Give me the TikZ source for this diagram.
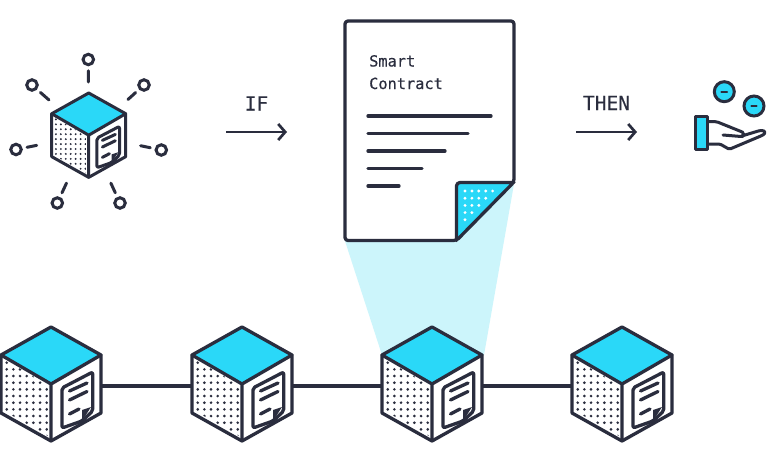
\documentclass[tikz,border=0pt]{standalone}
\usepackage{fontspec}
\newfontfamily\labelfont[FakeBold=0.35]{DejaVu Sans Mono}
\usetikzlibrary{arrows.meta}
\definecolor{ink}{HTML}{2A2D3E}
\definecolor{aqua}{HTML}{2AD8F8}
\definecolor{beam}{HTML}{CCF5FB}
\tikzset{
  x=1pt,y=-1pt,
  inkline/.style={draw=ink,line width=3.3pt,line cap=round,line join=round},
  thinline/.style={draw=ink,line width=3pt,line cap=round,line join=round},
  label/.style={text=ink,font=\labelfont\fontsize{15.3}{18}\selectfont,inner sep=0pt,anchor=base west},
  biglabel/.style={text=ink,font=\labelfont\fontsize{19.5}{22}\selectfont,inner sep=0pt,anchor=base},
  sat/.style={circle,draw=ink,line width=3pt,fill=white,minimum size=10.5pt,inner sep=0pt,outer sep=1.5pt},
  spoke/.style={thinline,shorten <=4.5pt,shorten >=53pt},
  flow/.style={draw=ink,line width=2.7pt,-{Straight Barb[length=7pt,width=16pt,line width=2.7pt]}},
  coin/.style={circle,draw=ink,fill=aqua,line width=3pt,minimum size=20pt,inner sep=0pt},
  cube/.pic={
    \coordinate (-e) at (50,59);
    \coordinate (-w) at (-50,59);
    \fill[white] (0,0)--(50,28)--(50,86)--(0,114)--(-50,86)--(-50,28)--cycle;
    \fill[aqua] (0,0)--(50,28)--(0,57)--(-50,28)--cycle;
    \begin{scope}
      \clip (-47,32)--(-3,58)--(-3,109)--(-47,84)--cycle;
      \foreach \i in {0,...,6}{\foreach \j in {0,...,12}{
        \fill[ink] (-44.3+6.67*\i,29+6.67*\j) circle (1.45);
      }}
    \end{scope}
    \draw[pic actions] (0,0)--(50,28)--(50,86)--(0,114)--(-50,86)--(-50,28)--cycle;
    \draw[pic actions] (-50,28)--(0,57)--(50,28) (0,57)--(0,114);
    \draw[pic actions,rounded corners=2pt] (41.7,45)--(41.7,84)--(31,94)--(11,101)--(11,61)--cycle;
    \fill[ink] (40,80)--(31,94)--(31,83)--cycle;
    \draw[pic actions] (18.5,64)--(36,56) (18.5,73)--(36,64.5) (18.5,87)--(28,82);
  }
}
\begin{document}
\begin{tikzpicture}
\useasboundingbox (0,0) rectangle (768,463);
\fill[white] (0,0) rectangle (768,463);

% light beam from contract down to the block
\coordinate (beamA) at (345,241);
\coordinate (beamB) at (514,184);
\coordinate (beamC) at (484,355);
\coordinate (beamD) at (382,355);
\fill[beam] (beamA)--(beamB)--(beamC)--(beamD)--cycle;

% chain of blocks
\pic[inkline] (c1) at (51,327) {cube};
\pic[inkline] (c2) at (242,327) {cube};
\pic[inkline] (c3) at (432,327) {cube};
\pic[inkline] (c4) at (622,327) {cube};
\draw[inkline,line cap=butt] (c1-e)--(c2-w);
\draw[inkline,line cap=butt] (c2-e)--(c3-w);
\draw[inkline,line cap=butt] (c3-e)--(c4-w);

% small networked block
\pic[thinline,scale=.74] (hubcube) at (88.7,93) {cube};
\coordinate (hub) at (88.7,135);
\node[sat] (s1) at (88.3,59.5) {};
\node[sat] (s2) at (32,85) {};
\node[sat] (s3) at (144,85) {};
\node[sat] (s4) at (16,149.5) {};
\node[sat] (s5) at (161.3,150) {};
\node[sat] (s6) at (57.3,203) {};
\node[sat] (s7) at (120,203) {};
\foreach \s in {s1,s2,s3,s4,s5,s6,s7}{\draw[spoke] (\s)--(hub);}

% IF arrow
\coordinate (ifA) at (226,132);
\coordinate (ifB) at (287,132);
\draw[flow] (ifA)--(ifB);
\node[biglabel] (iflabel) at (256.5,110.5) {IF};

% THEN arrow
\coordinate (thenA) at (576,132);
\coordinate (thenB) at (637,132);
\draw[flow] (thenA)--(thenB);
\node[biglabel] (thenlabel) at (606.5,110) {THEN};

% contract
\fill[white] (345,21)--(514,21)--(514,182)--(457,240.5)--(345,240.5)--cycle;
\fill[aqua,rounded corners=3pt] (456.5,240.5)--(456.5,182.5)--(514,182.5)--cycle;
\foreach \j/\n in {0/4,1/3,2/2,3/1,4/0}{\foreach \i in {0,...,\n}{
  \fill[white] (465+6.9*\i,191+7.2*\j) circle (1.6);
}}
\draw[inkline,rounded corners=3pt] (345,21)--(514,21)--(514,182)--(456.5,240.5)--(345,240.5)--cycle;
\draw[inkline] (514,182.5)--(460,182.5) to[out=180,in=90] (456.5,186)--(456.5,240.5);
\node[label] (sm) at (369,66.5) {Smart};
\node[label] (co) at (369,89) {Contract};
\draw[inkline] (368,116)--(491,116);
\draw[inkline] (368,133.5)--(468,133.5);
\draw[inkline] (368,151)--(445,151);
\draw[inkline] (368,168.5)--(422,168.5);
\draw[inkline] (368,186)--(399,186);

% hand with coins
\node[coin] (coinA) at (724.3,91.7) {};
\node[coin] (coinB) at (754,106) {};
\draw[thinline,line width=2.2pt] (721.5,91.7)--(727,91.7);
\draw[thinline,line width=2.2pt] (751.5,106)--(756.5,106);
\draw[thinline,fill=aqua] (695,116.7) rectangle (707.7,149);
\draw[thinline,rounded corners=1.5pt] (707.7,121.7)--(716.7,121.7)--(741,131.5) .. controls (744.5,133) and (744,136.5) .. (741,136.5)--(723,135);
\draw[thinline,rounded corners=1.5pt] (707.7,144)--(720,144)--(729.3,149.3)--(762,135.5) .. controls (766,133) and (765,130.5) .. (760,130.5)--(741.7,136);
\end{tikzpicture}
\end{document}
